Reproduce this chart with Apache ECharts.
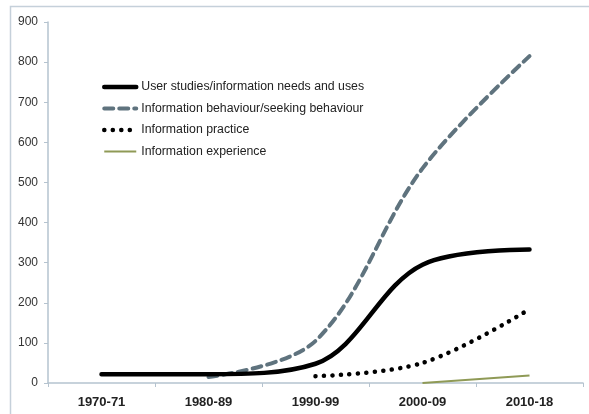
<!DOCTYPE html>
<html>
<head>
<meta charset="utf-8">
<script src="https://cdn.jsdelivr.net/npm/echarts@6/dist/echarts.min.js"></script>
<style>
  html, body { margin: 0; padding: 0; background: #fff; }
  #chart { width: 589px; height: 414px; }
</style>
</head>
<body>
<div id="chart"></div>
<script>
const categories = ['1970-71', '1980-89', '1990-99', '2000-09', '2010-18']
const userStudies = [22, 22, 48, 295, 333]
const infoBehaviour = [null, 15, 105, 535, 815]
const infoPractice = [null, null, 17, 50, 184]
const infoExperience = [null, null, null, 0, 19]
const yTicks = { min: 0, max: 900, interval: 100 }

const chart = echarts.init(document.getElementById('chart'))

chart.setOption({
  animation: false,
  graphic: [
    {
      // frame round the chart (left and top edges visible)
      type: 'rect',
      shape: { x: 10.5, y: 6.5, width: 700, height: 500 },
      style: { fill: 'none', stroke: '#c5d0da', lineWidth: 1.5 },
      silent: true,
      z: -1
    }
  ],
  legend: {
    orient: 'vertical',
    left: 97,
    top: 76,
    itemWidth: 32,
    itemHeight: 12,
    itemGap: 9.5,
    itemStyle: { opacity: 0 }, // only the line in the key, no marker
    textStyle: {
      fontFamily: 'Liberation Sans',
      fontSize: 12.3,
      color: '#222'
    },
    data: [
      { name: 'User studies/information needs and uses', lineStyle: { width: 4.5 } },
      { name: 'Information behaviour/seeking behaviour', lineStyle: { width: 4 } },
      { name: 'Information practice', lineStyle: { width: 4.5 } },
      { name: 'Information experience', lineStyle: { width: 2 } }
    ]
  },
  grid: {
    left: 48,
    right: 6,
    top: 22,
    bottom: 31
  },
  xAxis: {
    type: 'category',
    boundaryGap: true,
    data: categories,
    axisLine: { lineStyle: { color: '#b5c3cf', width: 1.5 } },
    axisTick: { show: true, length: 4, lineStyle: { color: '#b5c3cf' } },
    axisLabel: {
      margin: 13,
      fontFamily: 'Liberation Sans',
      fontWeight: 'bold',
      fontSize: 13,
      color: '#222'
    }
  },
  yAxis: {
    type: 'value',
    min: yTicks.min,
    max: yTicks.max,
    interval: yTicks.interval,
    splitLine: { show: false },
    axisLine: { show: true, lineStyle: { color: '#b5c3cf', width: 1.5 } },
    axisTick: { show: true, length: 4, lineStyle: { color: '#b5c3cf' } },
    axisLabel: {
      margin: 10,
      fontFamily: 'Liberation Sans',
      fontSize: 12,
      color: '#333'
    }
  },
  series: [
    {
      name: 'User studies/information needs and uses',
      type: 'line',
      smooth: 0.35,
      symbol: 'none',
      lineStyle: { color: '#000', width: 4.5, cap: 'round' },
      itemStyle: { color: '#000' },
      data: userStudies,
      z: 4
    },
    {
      name: 'Information behaviour/seeking behaviour',
      type: 'line',
      smooth: 0.35,
      symbol: 'none',
      lineStyle: { color: '#5f737e', width: 4, type: [9, 6], cap: 'round' },
      itemStyle: { color: '#5f737e' },
      data: infoBehaviour,
      z: 3
    },
    {
      name: 'Information practice',
      type: 'line',
      smooth: 0.35,
      symbol: 'none',
      lineStyle: { color: '#000', width: 4.5, type: [0.1, 8.4], cap: 'round' },
      itemStyle: { color: '#000' },
      data: infoPractice,
      z: 3
    },
    {
      name: 'Information experience',
      type: 'line',
      smooth: 0.35,
      symbol: 'none',
      lineStyle: { color: '#8f9a56', width: 2 },
      itemStyle: { color: '#8f9a56' },
      data: infoExperience,
      z: 2
    }
  ]
})
</script>
</body>
</html>
